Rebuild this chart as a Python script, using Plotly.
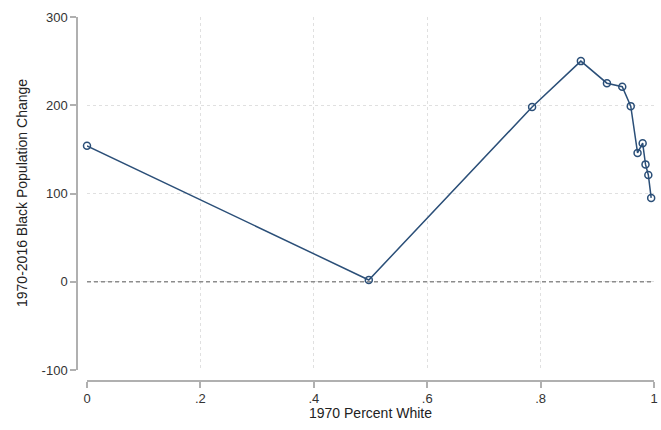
import plotly.graph_objects as go

pct_white = [0.0, 0.497, 0.785, 0.871, 0.917, 0.944, 0.959, 0.971, 0.980, 0.985, 0.990, 0.995]
black_change = [154, 2, 198, 250, 225, 221, 199, 146, 157, 133, 121, 95]

x_ticks = [0, 0.2, 0.4, 0.6, 0.8, 1]
x_labels = ["0", ".2", ".4", ".6", ".8", "1"]
y_ticks = [-100, 0, 100, 200, 300]
y_labels = ["-100", "0", "100", "200", "300"]

W, H = 661, 430
navy = "#2b4f78"
axcol = "#b0b0b0"
font = "Liberation Sans, Arial, sans-serif"

fig = go.Figure()
fig.add_trace(go.Scatter(
    x=pct_white, y=black_change, mode="lines+markers",
    line=dict(color=navy, width=1.5),
    marker=dict(symbol="circle-open", size=7, color=navy,
                line=dict(color=navy, width=1.5)),
    cliponaxis=False, showlegend=False))

fig.add_shape(type="line", xref="x", yref="y", x0=0, x1=1, y0=0, y1=0,
              line=dict(color="#8c8c8c", width=1.5, dash="4px,3px"), layer="between")

fig.update_layout(
    width=W, height=H,
    margin=dict(l=0, r=0, t=0, b=0),
    paper_bgcolor="white", plot_bgcolor="white",
    font=dict(family=font, size=13, color="#333333"),
    xaxis=dict(domain=[87 / W, 654 / W], range=[0, 1], anchor="free",
               position=(H - 381) / H,
               tickvals=x_ticks, ticktext=x_labels,
               showline=True, linecolor=axcol, linewidth=1.5,
               ticks="outside", ticklen=6, tickcolor=axcol, tickwidth=1.5,
               showgrid=True, gridcolor="#e0e0e0", griddash="dot", gridwidth=1,
               zeroline=False, automargin=False, fixedrange=True),
    yaxis=dict(domain=[60 / H, 413 / H], range=[-100, 300], anchor="free",
               position=77 / W,
               tickvals=y_ticks, ticktext=y_labels,
               showline=True, linecolor=axcol, linewidth=1.5,
               ticks="outside", ticklen=6, tickcolor=axcol, tickwidth=1.5,
               showgrid=True, gridcolor="#e0e0e0", griddash="dot", gridwidth=1,
               zeroline=False, automargin=False, fixedrange=True),
    annotations=[
        dict(text="1970 Percent White", xref="paper", yref="paper",
             x=(87 + 654) / 2 / W, y=(H - 413) / H, showarrow=False,
             font=dict(size=14, color="#222222"), xanchor="center", yanchor="middle"),
        dict(text="1970-2016 Black Population Change", xref="paper", yref="paper",
             x=22 / W, y=(H - 193) / H, showarrow=False, textangle=-90,
             font=dict(size=14, color="#222222"), xanchor="center", yanchor="middle"),
    ],
)

fig.write_html("out.html", config={"displayModeBar": False},
               post_script="document.body.style.margin='0';document.body.style.overflow='hidden';")
